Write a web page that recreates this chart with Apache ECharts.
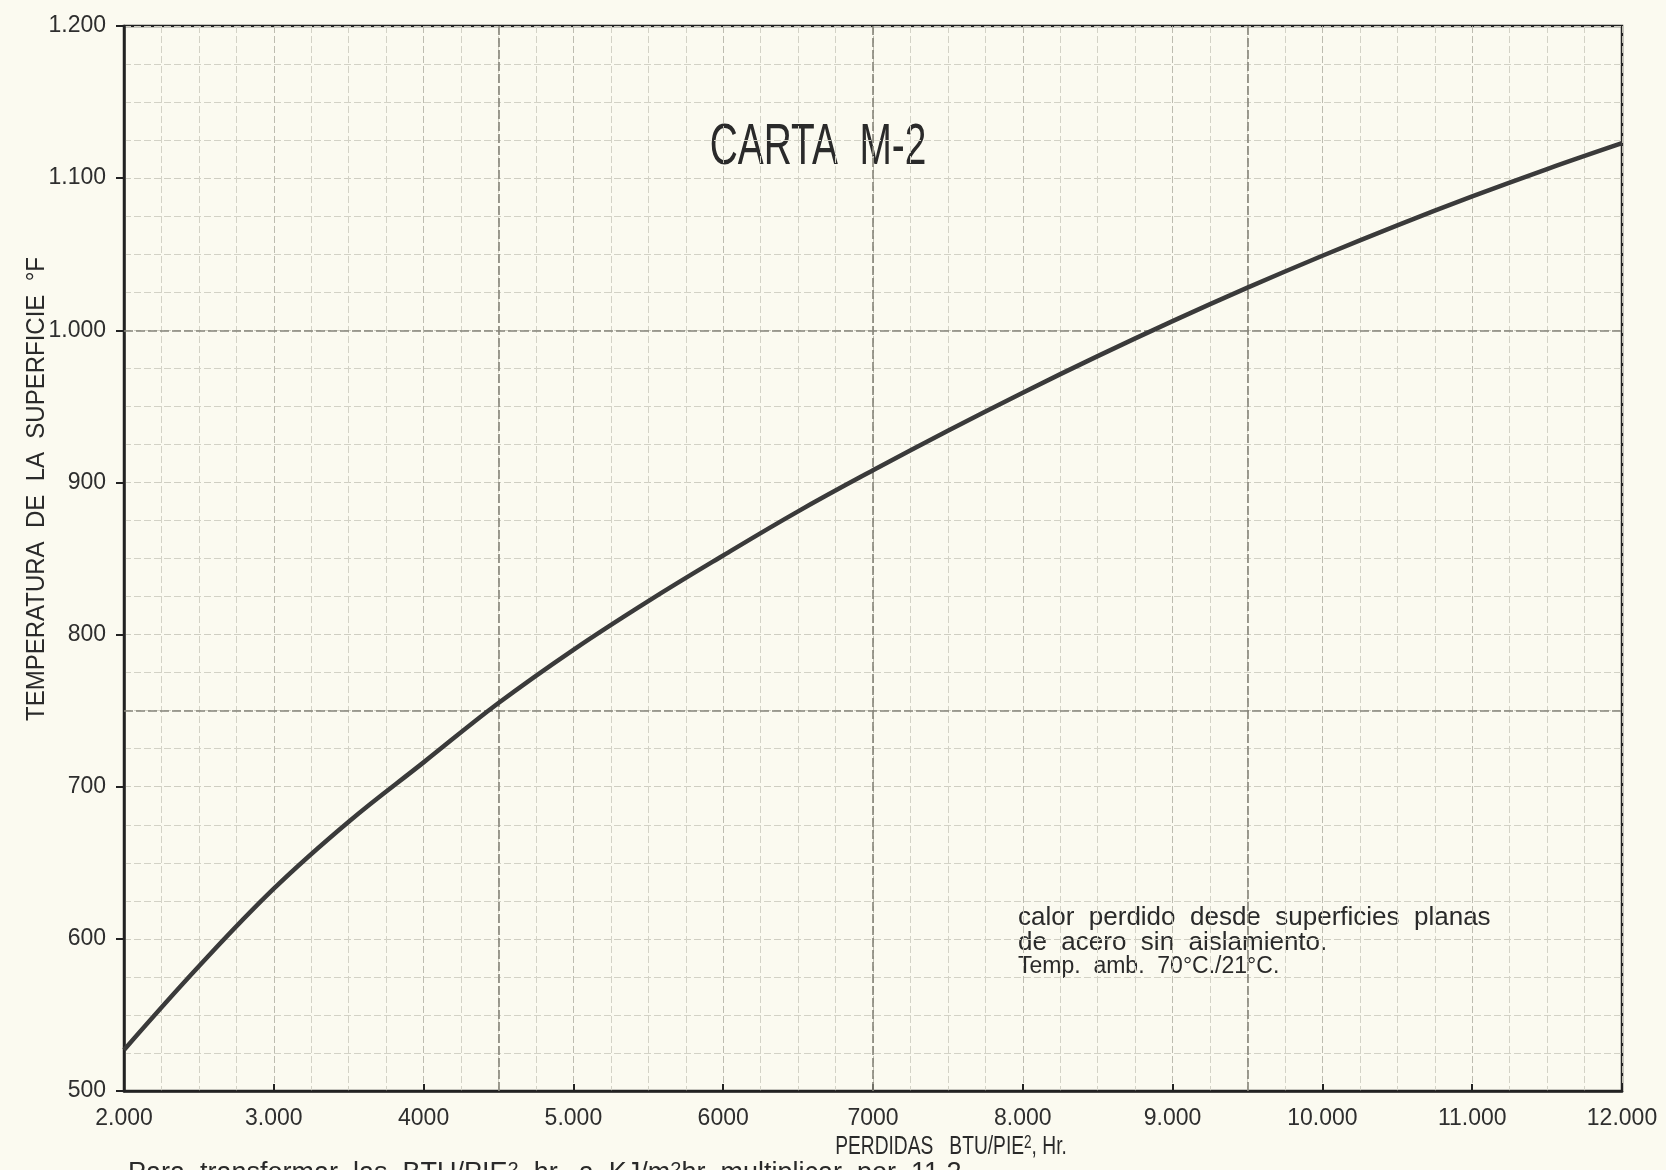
<!DOCTYPE html>
<html>
<head>
<meta charset="utf-8">
<script src="https://cdn.jsdelivr.net/npm/echarts@6/dist/echarts.min.js"></script>
<style>
html,body{margin:0;padding:0;background:#fbfaf0;}
#chart{width:1666px;height:1170px;}
</style>
</head>
<body>
<div id="chart"></div>
<script>
// ---- data ----
const perdidas = [2000,2500,3000,3500,4000,4500,5000,5500,6000,6500,7000,7500,8000,8500,9000,9500,10000,10500,11000,11500,12000];
const temperatura = [527,582,633,677,716,755,790,822,852,881,908,934,959,983,1006,1028,1049,1069,1088,1106,1123];
const xTickValues = [2000,3000,4000,5000,6000,7000,8000,9000,10000,11000,12000];
const xTickLabels = ['2.000','3.000','4000','5.000','6000','7000','8.000','9.000','10.000','11.000','12.000'];
const yTickValues = [500,600,700,800,900,1000,1100,1200];
const yTickLabels = ['500','600','700','800','900','1.000','1.100','1.200'];
const majorX = [4500,7000,9500];
const majorY = [750,1000];

const chart = echarts.init(document.getElementById('chart'), null, {renderer:'canvas'});
const fam = '"Liberation Sans Narrow", "Liberation Sans", sans-serif';
const ink = '#2e2e2e';
const gridLine = {color:'#d3d2c6', width:1, type:[7,3]};

const xLab = v => { const i = xTickValues.indexOf(v); return i >= 0 ? xTickLabels[i] : ''; };
const yLab = v => { const i = yTickValues.indexOf(v); return i >= 0 ? yTickLabels[i] : ''; };

chart.setOption({
  backgroundColor:'#fbfaf0',
  animation:false,
  grid:{left:124, right:44, top:26, bottom:79, show:true, borderColor:'#222', borderWidth:2.5, backgroundColor:'transparent'},
  xAxis:{
    type:'value', min:2000, max:12000, interval:1000,
    axisLine:{show:true, lineStyle:{color:'#222', width:2.5}},
    axisTick:{show:true, inside:true, length:7, lineStyle:{color:'#222', width:2}},
    axisLabel:{formatter:xLab, color:ink, fontFamily:fam, fontSize:23, margin:16},
    splitLine:{show:true, lineStyle:{color:'#bdbcb0', width:1, type:[7,3]}},
    minorTick:{show:false, splitNumber:4},
    minorSplitLine:{show:true, lineStyle:gridLine}
  },
  yAxis:{
    type:'value', min:500, max:1200, interval:100,
    axisLine:{show:true, lineStyle:{color:'#222', width:2.5}},
    axisTick:{show:true, inside:false, length:8, lineStyle:{color:'#222', width:2}},
    axisLabel:{formatter:yLab, color:ink, fontFamily:fam, fontSize:23, margin:18},
    splitLine:{show:true, lineStyle:{color:'#cfcec2', width:1, type:[7,3]}},
    minorTick:{show:false, splitNumber:4},
    minorSplitLine:{show:true, lineStyle:gridLine}
  },
  series:[{
    type:'line',
    data:perdidas.map((x,i)=>[x, temperatura[i]]),
    smooth:0.4,
    showSymbol:false,
    lineStyle:{color:'#3a3a3a', width:4.5},
    markLine:{
      silent:true, symbol:'none', label:{show:false},
      lineStyle:{color:'#858479', width:1.6, type:[9,3]},
      data:majorX.map(v=>({xAxis:v})).concat(majorY.map(v=>({yAxis:v})))
    },
    z:5
  }],
  graphic:[
    {type:'text', x:818, y:148, scaleX:0.72, scaleY:1.05, originX:0, originY:0,
     style:{text:'CARTA  M-2', fill:'#2a2a2a', font:'54px ' + fam, textAlign:'center', textVerticalAlign:'middle'}},
    {type:'text', x:1018, y:905,
     style:{text:'calor  perdido  desde  superficies  planas\nde  acero  sin  aislamiento.', fill:'#2a2a2a', font:'26px ' + fam, lineHeight:25, textAlign:'left', textVerticalAlign:'top'}},
    {type:'text', x:1018, y:955,
     style:{text:'Temp.  amb.  70°C./21°C.', fill:'#2a2a2a', font:'23px ' + fam, textAlign:'left', textVerticalAlign:'top'}},
    {type:'text', x:37, y:489, rotation:Math.PI/2, scaleY:1.1, originX:0, originY:0,
     style:{text:'TEMPERATURA  DE  LA  SUPERFICIE  °F', fill:'#2a2a2a', font:'24px ' + fam, textAlign:'center', textVerticalAlign:'middle'}},
    {type:'text', x:951, y:1147, scaleX:0.8, scaleY:1.1, originX:0, originY:0,
     style:{text:'{a|PERDIDAS   BTU/PIE}{s|2}{a|, Hr.}', textAlign:'center', textVerticalAlign:'middle',
       rich:{a:{fill:'#2a2a2a', font:'24px ' + fam}, s:{fill:'#2a2a2a', font:'17px ' + fam, verticalAlign:'top'}}}},
    {type:'text', x:128, y:1160,
     style:{text:'{a|Para  transformar  las  BTU/PIE}{s|2}{a|  hr.  a  KJ/m}{s|2}{a|hr  multiplicar  por  11.2}', textAlign:'left', textVerticalAlign:'top',
       rich:{a:{fill:'#2a2a2a', font:'27px ' + fam}, s:{fill:'#2a2a2a', font:'20px ' + fam, verticalAlign:'top'}}}}
  ]
});
</script>
</body>
</html>
